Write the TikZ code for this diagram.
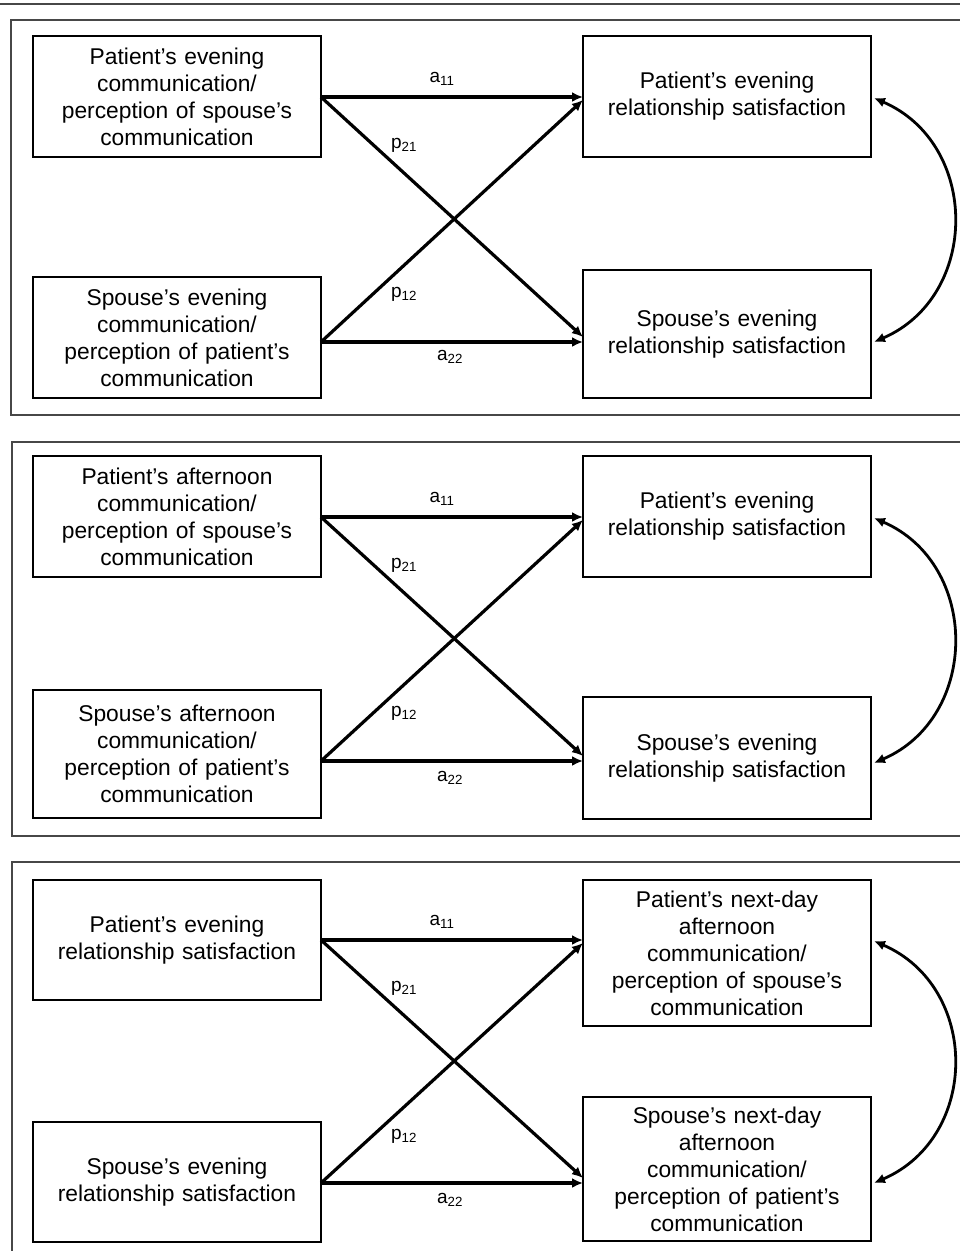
\documentclass[tikz,border=0pt]{standalone}
\usepackage{fontspec}
\setmainfont{Liberation Sans}
\usetikzlibrary{arrows.meta}
\begin{document}
\begin{tikzpicture}[x=1pt,y=-1pt,
 box/.style={draw, line width=2.8pt, minimum width=288pt, inner sep=0pt, align=center, text width=280pt, font=\fontsize{22.8}{27}\selectfont},
 frame/.style={draw=black!72, line width=1.6pt},
 effect/.style={line width=3.2pt, -{Latex[length=11pt,width=10pt]}},
 lab/.style={font=\fontsize{19}{21}\selectfont, inner sep=0pt},
 cov/.style={line width=2.8pt, {Latex[length=11pt,width=10pt]}-{Latex[length=11pt,width=10pt]}}]
\useasboundingbox (0,0) rectangle (960,1251);
\fill[white] (0,0) rectangle (960,1251);
\draw[frame] (0,4) -- (960,4);
% ---------------- Panel 1
\draw[frame] (11,20) rectangle (975,415);
\node[box, minimum height=121pt] (A1) at (177,96.5) {Patient’s evening\\communication/\\perception of spouse’s\\communication};
\node[box, minimum height=121pt] (A2) at (177,337.5) {Spouse’s evening\\communication/\\perception of patient’s\\communication};
\node[box, minimum height=121pt] (B1) at (727,96.5) {Patient’s evening\\relationship satisfaction};
\node[box, minimum height=128pt] (B2) at (727,334) {Spouse’s evening\\relationship satisfaction};
\coordinate (A1o) at (321,97);
\coordinate (A2o) at (321,342);
\coordinate (B1a) at (583,97);
\coordinate (B1p) at (583,100);
\coordinate (B2p) at (583,337);
\coordinate (B2a) at (583,342);
\draw[effect] (A1o) -- (B1a);
\draw[effect] (A1o) -- (B2p);
\draw[effect] (A2o) -- (B1p);
\draw[effect] (A2o) -- (B2a);
\node[lab] (l1a) at (442,79) {a\textsubscript{11}};
\node[lab] (l1b) at (404,145) {p\textsubscript{21}};
\node[lab] (l1c) at (404,294) {p\textsubscript{12}};
\node[lab] (l1d) at (450,357) {a\textsubscript{22}};
\coordinate (C1a) at (874,98);
\coordinate (C1b) at (874,342);
\draw[cov] (C1a) .. controls (980,144) and (980,296) .. (C1b);
% ---------------- Panel 2
\draw[frame] (12,442) rectangle (975,836);
\node[box, minimum height=121pt] (D1) at (177,516.5) {Patient’s afternoon\\communication/\\perception of spouse’s\\communication};
\node[box, minimum height=128pt] (D2) at (177,754) {Spouse’s afternoon\\communication/\\perception of patient’s\\communication};
\node[box, minimum height=121pt] (E1) at (727,516.5) {Patient’s evening\\relationship satisfaction};
\node[box, minimum height=122pt] (E2) at (727,758) {Spouse’s evening\\relationship satisfaction};
\coordinate (D1o) at (321,517);
\coordinate (D2o) at (321,761);
\coordinate (E1a) at (583,517);
\coordinate (E1p) at (583,520);
\coordinate (E2p) at (583,756);
\coordinate (E2a) at (583,761);
\draw[effect] (D1o) -- (E1a);
\draw[effect] (D1o) -- (E2p);
\draw[effect] (D2o) -- (E1p);
\draw[effect] (D2o) -- (E2a);
\node[lab] (l2a) at (442,499) {a\textsubscript{11}};
\node[lab] (l2b) at (404,565) {p\textsubscript{21}};
\node[lab] (l2c) at (404,713) {p\textsubscript{12}};
\node[lab] (l2d) at (450,778) {a\textsubscript{22}};
\coordinate (C2a) at (874,518);
\coordinate (C2b) at (874,763);
\draw[cov] (C2a) .. controls (980,564) and (980,717) .. (C2b);
% ---------------- Panel 3
\draw[frame] (12,862) rectangle (975,1270);
\node[box, minimum height=120pt] (F1) at (177,940) {Patient’s evening\\relationship satisfaction};
\node[box, minimum height=120pt] (F2) at (177,1182) {Spouse’s evening\\relationship satisfaction};
\node[box, minimum height=146pt] (G1) at (727,953) {Patient’s next-day\\afternoon\\communication/\\perception of spouse’s\\communication};
\node[box, minimum height=144pt] (G2) at (727,1169) {Spouse’s next-day\\afternoon\\communication/\\perception of patient’s\\communication};
\coordinate (F1o) at (321,940);
\coordinate (F2o) at (321,1183);
\coordinate (G1a) at (583,940);
\coordinate (G1p) at (583,943);
\coordinate (G2p) at (583,1178);
\coordinate (G2a) at (583,1183);
\draw[effect] (F1o) -- (G1a);
\draw[effect] (F1o) -- (G2p);
\draw[effect] (F2o) -- (G1p);
\draw[effect] (F2o) -- (G2a);
\node[lab] (l3a) at (442,922) {a\textsubscript{11}};
\node[lab] (l3b) at (404,988) {p\textsubscript{21}};
\node[lab] (l3c) at (404,1136) {p\textsubscript{12}};
\node[lab] (l3d) at (450,1200) {a\textsubscript{22}};
\coordinate (C3a) at (874,941);
\coordinate (C3b) at (874,1183);
\draw[cov] (C3a) .. controls (980,987) and (980,1137) .. (C3b);
\end{tikzpicture}
\end{document}
